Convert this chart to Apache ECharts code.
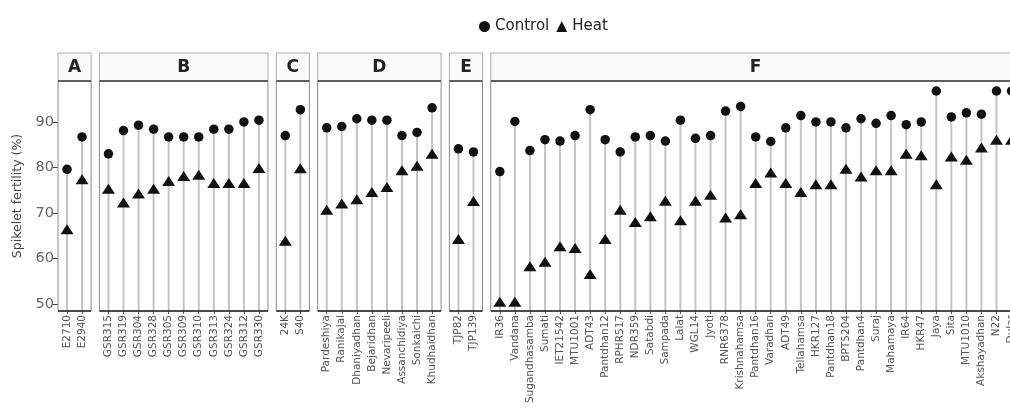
<!DOCTYPE html>
<html><head><meta charset="utf-8">
<script src="https://cdn.jsdelivr.net/npm/echarts@6/dist/echarts.min.js"></script>
<style>html,body{margin:0;padding:0;background:#fff}#c{width:1010px;height:408px}</style>
</head><body><div id="c"></div>
<script>
const panelNames = ['A','B','C','D','E','F'];
const catsA = ['E2710','E2940'];
const controlA = [79.6, 86.7];
const heatA = [66.4, 77.4];
const catsB = ['GSR315','GSR319','GSR304','GSR328','GSR305','GSR309','GSR310','GSR313','GSR324','GSR312','GSR330'];
const controlB = [83.0,88.1,89.3,88.4,86.7,86.7,86.7,88.4,88.4,90.0,90.4];
const heatB = [75.3,72.3,74.3,75.3,77.0,78.1,78.4,76.6,76.6,76.6,79.9];
const catsC = ['24K','S40'];
const controlC = [87.0, 92.7];
const heatC = [63.9, 79.8];
const catsD = ['Pardeshiya','Ranikajal','Dhaniyadhan','Bejaridhan','Nevaripeeli','Assanchidiya','Sonkaichi','Khudhaidhan'];
const controlD = [88.7,89.0,90.7,90.4,90.4,87.0,87.7,93.1];
const heatD = [70.7,72.1,73.0,74.6,75.7,79.4,80.4,83.0];
const catsE = ['TJP82','TJP139'];
const controlE = [84.1,83.4];
const heatE = [64.3,72.6];
const catsF = ['IR36','Vandana','Sugandhasamba','Sumati','IET21542','MTU1001','ADT43','Pantdhan12','RPHR517','NDR359','Satabdi','Sampada','Lalat','WGL14','Jyoti','RNR6378','Krishnahamsa','Pantdhan16','Varadhan','ADT49','Tellahamsa','HKR127','Pantdhan18','BPT5204','Pantdhan4','Suraj','Mahamaya','IR64','HKR47','Jaya','Sita','MTU1010','Akshayadhan','N22','Dular'];
const controlF = [79.1,90.1,83.7,86.1,85.8,87.0,92.7,86.1,83.4,86.7,87.0,85.8,90.4,86.4,87.0,92.4,93.4,86.7,85.7,88.7,91.4,90.0,90.0,88.7,90.7,89.7,91.4,89.4,90.0,96.8,91.1,92.0,91.7,96.8,96.8];
const heatF = [50.5,50.5,58.3,59.3,62.7,62.3,56.6,64.3,70.7,68.0,69.3,72.7,68.4,72.7,74.0,69.0,69.7,76.6,78.9,76.6,74.6,76.3,76.3,79.7,78.0,79.4,79.4,83.0,82.7,76.3,82.4,81.7,84.4,86.1,86.1];
const yTicks = [50,60,70,80,90];
const yTitle = 'Spikelet fertility (%)';

const cats = [catsA,catsB,catsC,catsD,catsE,catsF];
const ctrls = [controlA,controlB,controlC,controlD,controlE,controlF];
const heats = [heatA,heatB,heatC,heatD,heatE,heatF];

// layout
const U = 15.05, GAP = 8.3, X0 = 58, TOP = 81, BOT = 311, STRIP_TOP = 53;
const YMIN = 48.45, YMAX = 99.0;
const FONT = '"DejaVu Sans", sans-serif';

const grids = [], xAxes = [], yAxes = [], series = [], graphics = [];
let left = X0;
cats.forEach((c, i) => {
  const n = c.length;
  const pw = (n + 0.2) * U;
  grids.push({left: left + 0.1 * U, width: n * U, top: TOP, height: BOT - TOP,
    containLabel: false, outerBoundsMode: 'none'});
  xAxes.push({
    type: 'category', gridIndex: i, data: c, boundaryGap: true,
    axisLine: {show: false},
    axisTick: {show: true, alignWithLabel: true, length: 3, lineStyle: {color: '#555'}},
    axisLabel: {interval: 0, rotate: 90, margin: 4, fontSize: 10.5, color: '#555', fontFamily: FONT, hideOverlap: false},
    splitLine: {show: false}
  });
  const first = i === 0;
  yAxes.push({
    type: 'value', gridIndex: i, min: YMIN, max: YMAX,
    offset: first ? 0.1 * U : 0,
    axisLine: {show: false},
    splitLine: {show: false},
    axisTick: {show: first, length: 5, customValues: yTicks, lineStyle: {color: '#444'}},
    axisLabel: {show: first, customValues: yTicks, margin: 4, fontSize: 14.5, color: '#666', fontFamily: FONT},
    name: first ? yTitle : '', nameLocation: 'middle', nameGap: 34, nameRotate: 90,
    nameTextStyle: {fontSize: 12.5, color: '#444', fontFamily: FONT}
  });
  series.push({
    type: 'bar', name: 'seg' + i, xAxisIndex: i, yAxisIndex: i, data: ctrls[i],
    barWidth: 2, itemStyle: {color: '#c4c4c4'}, silent: true, z: 1
  });
  series.push({
    type: 'scatter', name: 'Control', xAxisIndex: i, yAxisIndex: i, data: ctrls[i],
    symbol: 'circle', symbolSize: 9.5, itemStyle: {color: '#111', opacity: 1}, z: 3
  });
  series.push({
    type: 'scatter', name: 'Heat', xAxisIndex: i, yAxisIndex: i, data: heats[i],
    symbol: 'triangle', symbolSize: [13, 10], itemStyle: {color: '#111', opacity: 1}, z: 3
  });
  // strip
  graphics.push({type: 'rect', shape: {x: left, y: STRIP_TOP, width: pw, height: TOP - STRIP_TOP},
    style: {fill: '#fafafa', stroke: '#aaa', lineWidth: 1}, z: 0});
  graphics.push({type: 'text', x: left + pw / 2, y: (STRIP_TOP + TOP) / 2 + 1,
    style: {text: panelNames[i], font: 'bold 17px ' + FONT, fill: '#222', align: 'center', verticalAlign: 'middle'}, z: 10});
  // frame
  graphics.push({type: 'rect', shape: {x: left, y: TOP, width: pw, height: BOT - TOP},
    style: {fill: 'none', stroke: '#8a8a8a', lineWidth: 1}, z: 5});
  graphics.push({type: 'line', shape: {x1: left, y1: TOP, x2: left + pw, y2: TOP},
    style: {stroke: '#444', lineWidth: 1.5}, z: 6});
  graphics.push({type: 'line', shape: {x1: left, y1: BOT, x2: left + pw, y2: BOT},
    style: {stroke: '#222', lineWidth: 1.5}, z: 6});
  left += pw + GAP;
});

const chart = echarts.init(document.getElementById('c'), null, {renderer: 'canvas'});
chart.setOption({
  animation: false,
  backgroundColor: '#fff',
  legend: {
    data: [{name: 'Control', icon: 'circle'}, {name: 'Heat', icon: 'triangle'}],
    left: 474, top: 14, itemWidth: 11, itemHeight: 11, itemGap: 7,
    textStyle: {fontSize: 15, color: '#222', fontFamily: FONT}
  },
  grid: grids, xAxis: xAxes, yAxis: yAxes, series: series,
  graphic: graphics
});
</script></body></html>
